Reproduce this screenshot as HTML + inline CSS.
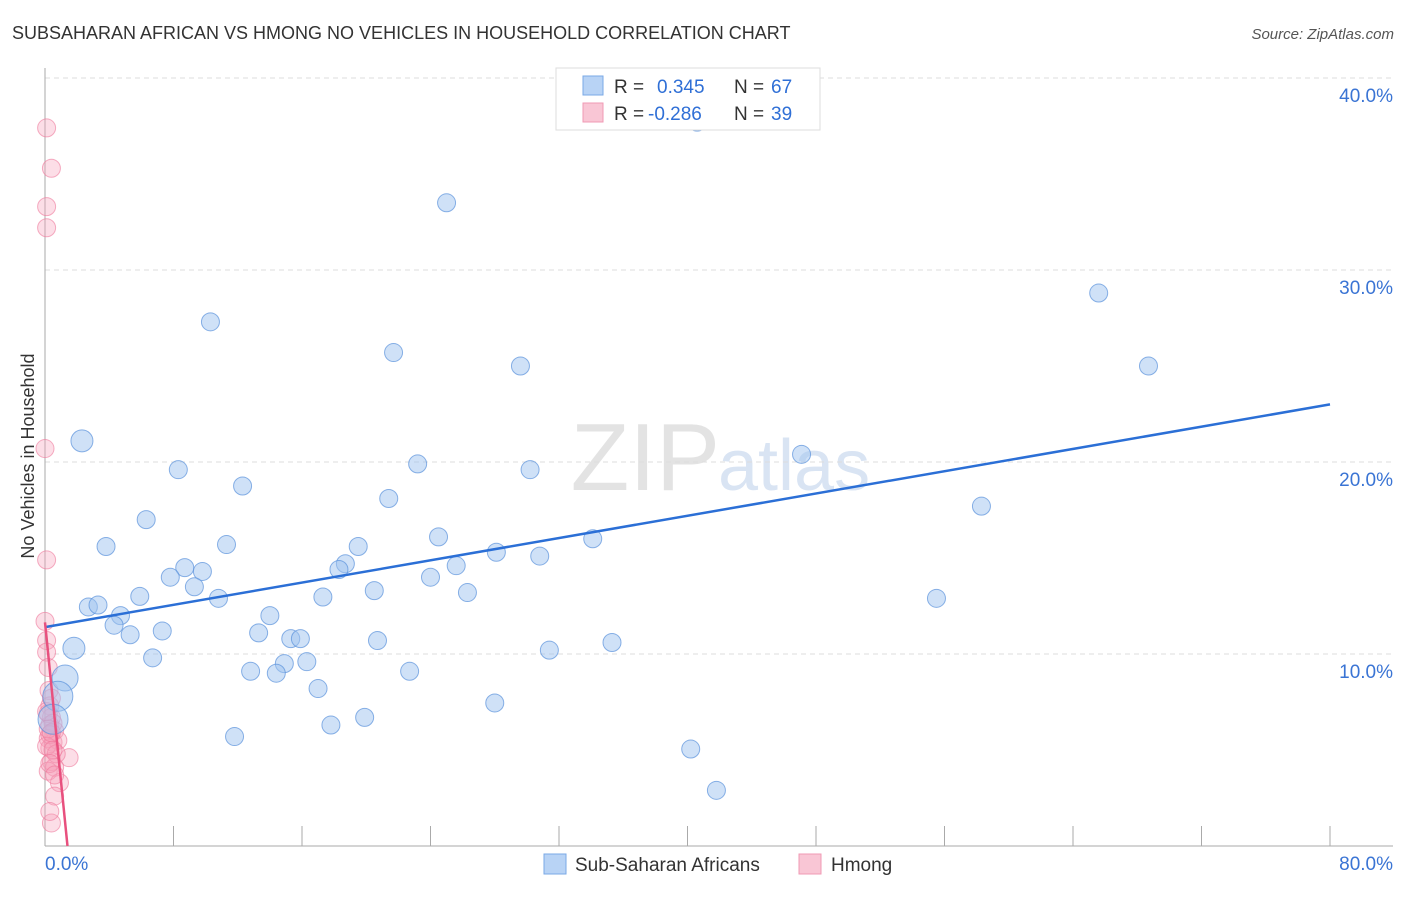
<!DOCTYPE html>
<html><head><meta charset="utf-8">
<style>
body{margin:0;background:#fff;font-family:"Liberation Sans",sans-serif;}
svg text{font-family:"Liberation Sans",sans-serif;}
</style></head>
<body>
<svg id="chart" width="1406" height="892" viewBox="0 0 1406 892" xmlns="http://www.w3.org/2000/svg">
<text x="12" y="39" font-size="18" fill="#333">SUBSAHARAN AFRICAN VS HMONG NO VEHICLES IN HOUSEHOLD CORRELATION CHART</text>
<text x="1394" y="39" font-size="15" fill="#555" text-anchor="end" font-style="italic">Source: ZipAtlas.com</text>
<text transform="translate(34,456) rotate(-90)" font-size="18" fill="#333" text-anchor="middle">No Vehicles in Household</text>
<text x="720" y="490" font-size="96" fill="#ddd" text-anchor="end" font-family="Liberation Serif" opacity="0.8">ZIP</text>
<text x="718" y="490" font-size="72" fill="#c9d9ef" opacity="0.7">atlas</text>
<g id="grid"></g>
<g id="axes"></g>
<g id="pts"></g>
<g id="trends"></g>
<g>
<rect x="556" y="68" width="264" height="62" fill="#fff" stroke="#ddd"/>
<rect x="583" y="76" width="20" height="19" fill="#b8d3f5" stroke="#7aa8e6"/>
<rect x="583" y="103" width="20" height="19" fill="#f9c6d5" stroke="#f09ab4"/>
<text x="614" y="93" font-size="19" fill="#333">R =</text>
<text x="657" y="93" font-size="19" fill="#2f6fd6">0.345</text>
<text x="734" y="93" font-size="19" fill="#333">N =</text>
<text x="771" y="93" font-size="19" fill="#2f6fd6">67</text>
<text x="614" y="120" font-size="19" fill="#333">R =</text>
<text x="648" y="120" font-size="19" fill="#2f6fd6">-0.286</text>
<text x="734" y="120" font-size="19" fill="#333">N =</text>
<text x="771" y="120" font-size="19" fill="#2f6fd6">39</text>
</g>
<g>
<rect x="544" y="854" width="22" height="20" fill="#b8d3f5" stroke="#7aa8e6"/>
<text x="575" y="871" font-size="19" fill="#333">Sub-Saharan Africans</text>
<rect x="799" y="854" width="22" height="20" fill="#f9c6d5" stroke="#f09ab4"/>
<text x="831" y="871" font-size="19" fill="#333">Hmong</text>
</g>
</svg>
<script>
const blueX=[40.6,25.0,10.3,21.7,29.6,65.6,68.7,2.3,8.3,12.3,23.2,30.2,47.1,58.3,21.4,6.3,3.8,11.3,19.5,24.5,34.1,28.1,30.8,18.7,18.3,25.6,8.7,9.8,7.8,24.0,9.3,20.5,26.3,5.9,10.8,17.3,55.5,2.7,3.3,4.7,14.0,4.3,7.3,5.3,13.3,15.3,15.9,20.7,35.3,1.8,31.4,6.7,14.9,16.3,12.8,14.4,22.7,1.25,17.0,0.8,28.0,19.9,17.8,0.5,11.8,40.2,41.8];
const blueY=[37.7,33.5,27.3,25.7,25.0,28.8,25.0,21.1,19.6,18.75,19.9,19.6,20.4,17.7,18.1,17.0,15.6,15.7,15.6,16.1,16.0,15.3,15.1,14.7,14.4,14.6,14.5,14.3,14.0,14.0,13.5,13.3,13.2,13.0,12.9,12.97,12.9,12.45,12.55,12.0,12.0,11.5,11.2,11.0,11.1,10.8,10.8,10.7,10.6,10.3,10.2,9.8,9.5,9.6,9.1,9.0,9.1,8.75,8.2,7.8,7.45,6.7,6.3,6.6,5.7,5.05,2.9];
const blueR=[9,9,9,9,9,9,9,11,9,9,9,9,9,9,9,9,9,9,9,9,9,9,9,9,9,9,9,9,9,9,9,9,9,9,9,9,9,9,9,9,9,9,9,9,9,9,9,9,9,11,9,9,9,9,9,9,9,13,9,15,9,9,9,15,9,9,9];
const pinkX=[0.1,0.4,0.1,0.1,0,0.1,0,0.1,0.1,0.2,0.25,0.3,0.4,0.3,0.6,0.2,0.5,0.8,0.3,1.5,0.4,0.6,0.2,0.9,0.6,0.4,0.3,0.2,0.5,0.3,0.1,0.7,0.4,0.2,0.5,0.3,0.6,0.1,0.4];
const pinkY=[37.4,35.3,33.3,32.2,20.7,14.9,11.7,10.7,10.1,9.3,8.1,7.3,6.7,6.3,6.0,5.6,5.4,5.5,5.1,4.6,4.4,4.1,3.9,3.3,2.6,1.2,1.8,6.9,6.4,5.8,5.2,4.8,7.7,6.1,5.0,4.3,3.7,7.0,5.9];
const blueTrend=[[0,11.4],[80,23.0]];
const pinkTrend=[[0,11.65],[1.4,0]];
const xTicks=[0,8,16,24,32,40,48,56,64,72,80];
const yTicks=[10,20,30,40];
const NS="http://www.w3.org/2000/svg";
const X=v=>45+v*1285/80, Y=v=>846-v*19.2;
function mk(tag,attrs,parent){const e=document.createElementNS(NS,tag);for(const k in attrs)e.setAttribute(k,attrs[k]);document.getElementById(parent).appendChild(e);return e;}
yTicks.forEach(t=>{
 const l=mk('line',{x1:45,x2:1393,y1:Y(t),y2:Y(t),stroke:'#ddd','stroke-dasharray':'5,4'},'grid');
 
 
 const tx=mk('text',{x:1393,y:Y(t)+24,'font-size':19,fill:'#3a74d4','text-anchor':'end'},'axes');
 tx.textContent=t.toFixed(1)+'%';
 
 
});
let a=mk('line',{x1:45,x2:45,y1:68,y2:846,stroke:'#aaa'},'axes');

a=mk('line',{x1:45,x2:1393,y1:846,y2:846,stroke:'#aaa'},'axes');

xTicks.slice(1).forEach(t=>{
 const l=mk('line',{x1:X(t),x2:X(t),y1:826,y2:846,stroke:'#aaa'},'axes');
 
 
});
let t0=mk('text',{x:45,y:870,'font-size':19,fill:'#3a74d4'},'axes');t0.textContent=xTicks[0].toFixed(1)+'%';

let t1=mk('text',{x:1393,y:870,'font-size':19,fill:'#3a74d4','text-anchor':'end'},'axes');t1.textContent=xTicks[xTicks.length-1].toFixed(1)+'%';

pinkX.forEach((v,i)=>{
 const c=mk('circle',{cx:X(v),cy:Y(pinkY[i]),r:9,fill:'rgba(246,160,185,0.35)',stroke:'rgba(238,120,155,0.6)'},'pts');
 
 
});
blueX.forEach((v,i)=>{
 const c=mk('circle',{cx:X(v),cy:Y(blueY[i]),r:blueR[i],fill:'rgba(160,195,240,0.5)',stroke:'rgba(90,145,220,0.7)'},'pts');
 
 
});
let bl=mk('line',{x1:X(blueTrend[0][0]),y1:Y(blueTrend[0][1]),x2:X(blueTrend[1][0]),y2:Y(blueTrend[1][1]),stroke:'#2b6fd6','stroke-width':2.5},'trends');

let pl=mk('line',{x1:X(pinkTrend[0][0]),y1:Y(pinkTrend[0][1]),x2:X(pinkTrend[1][0]),y2:Y(pinkTrend[1][1]),stroke:'#e8507e','stroke-width':2.5},'trends');

</script>
</body></html>
